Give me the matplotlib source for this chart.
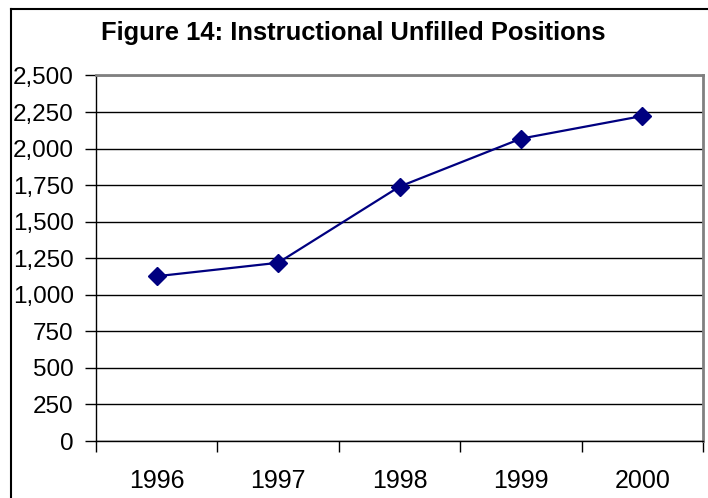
import numpy as np
import matplotlib
matplotlib.use('Agg')
import matplotlib.pyplot as plt
from matplotlib.lines import Line2D
from matplotlib.ticker import FuncFormatter

years = ['1996', '1997', '1998', '1999', '2000']
positions = [1127, 1219, 1740, 2068, 2223]
y_ticks = np.arange(0, 2501, 250)

plt.rcParams['font.family'] = ['Liberation Sans', 'DejaVu Sans']
plt.rcParams['font.size'] = 18

fig = plt.figure(figsize=(7.08, 4.98), dpi=100)
ax = fig.add_axes([96 / 708, 1 - 441 / 498, (703 - 96) / 708, (441 - 75.5) / 498])

x = np.arange(len(years))
ax.plot(x, positions, color='#000080', lw=1.6, marker='D', ms=9, zorder=3)

# gridlines
ax.set_ylim(0, 2500)
ax.set_yticks(y_ticks)
ax.yaxis.set_major_formatter(FuncFormatter(lambda v, p: '{:,.0f}'.format(v)))
ax.grid(axis='y', color='black', lw=1.0)
ax.set_axisbelow(True)

# category axis: ticks between categories, labels at centres
ax.set_xlim(-0.5, len(years) - 0.5)
ax.set_xticks(np.arange(-0.5, len(years), 1.0))
ax.set_xticklabels([])
ax.set_xticks(x, minor=True)
ax.set_xticklabels(years, minor=True)
ax.tick_params(axis='x', which='minor', length=0, pad=20, labelsize=18)
ax.tick_params(axis='x', which='major', length=8, width=1, color='black')
ax.tick_params(axis='y', length=8, width=1, pad=8, labelsize=17.5)

for s in ['top', 'right']:
    ax.spines[s].set_color('#808080')
    ax.spines[s].set_linewidth(2)
for s in ['left', 'bottom']:
    ax.spines[s].set_color('black')
    ax.spines[s].set_linewidth(1)

fig.text(353 / 708, 1 - 33 / 498, 'Figure 14: Instructional Unfilled Positions',
         ha='center', va='center', fontsize=18.4, fontweight='bold')

# outer chart border (cut off on right and bottom)
fig.add_artist(Line2D([10.5 / 708, 1.0], [1 - 9.5 / 498] * 2, color='black', lw=1.5, transform=fig.transFigure))
fig.add_artist(Line2D([10.5 / 708] * 2, [0.0, 1 - 9.5 / 498], color='black', lw=1.5, transform=fig.transFigure))

plt.savefig('out.png', dpi=100)
